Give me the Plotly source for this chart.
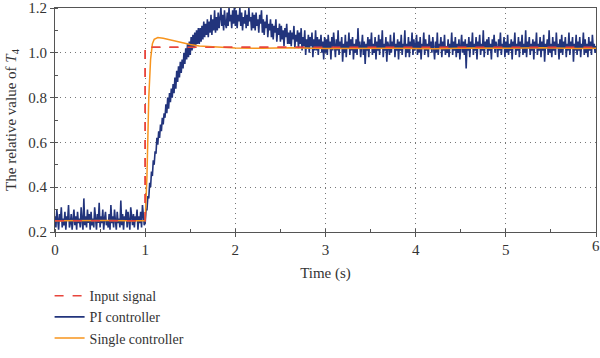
import numpy as np
import plotly.graph_objects as go

# Input signal (step)
input_t = [0, 1.0, 1.0, 6.0]
input_v = [0.25, 0.25, 1.025, 1.025]

# Single controller response
single_t = [0, 0.2, 0.4, 0.6, 0.8, 1.0, 1.02, 1.04, 1.06, 1.08, 1.10, 1.14, 1.2, 1.3, 1.4, 1.5,
            1.6, 1.8, 2.0, 2.3, 2.6, 3.0, 3.4, 3.8, 4.2, 4.6, 5.0, 5.4, 5.8, 6.0]
single_v = [0.25, 0.251, 0.249, 0.251, 0.25, 0.25, 0.45, 0.80, 0.97, 1.04, 1.06, 1.068, 1.065, 1.055, 1.045, 1.037,
            1.03, 1.025, 1.021, 1.02, 1.022, 1.019, 1.021, 1.02, 1.018, 1.021, 1.02, 1.022, 1.019, 1.02]

pi_v = [
    0.27, 0.22, 0.30, 0.24, 0.21, 0.28, 0.25, 0.31, 0.22, 0.26,
    0.23, 0.29, 0.21, 0.27, 0.25, 0.32, 0.22, 0.24, 0.28, 0.21,
    0.26, 0.30, 0.23, 0.27, 0.21, 0.29, 0.24, 0.26, 0.22, 0.31,
    0.25, 0.21, 0.35, 0.23, 0.27, 0.22, 0.30, 0.24, 0.28, 0.21,
    0.29, 0.23, 0.26, 0.22, 0.31, 0.25, 0.21, 0.28, 0.24, 0.33,
    0.22, 0.27, 0.24, 0.30, 0.21, 0.26, 0.29, 0.23, 0.25, 0.22,
    0.28, 0.21, 0.32, 0.24, 0.27, 0.22, 0.30, 0.25, 0.21, 0.29,
    0.24, 0.26, 0.22, 0.34, 0.23, 0.28, 0.21, 0.27, 0.25, 0.30,
    0.22, 0.29, 0.24, 0.21, 0.31, 0.26, 0.23, 0.28, 0.22, 0.27,
    0.25, 0.30, 0.21, 0.27, 0.24, 0.29, 0.22, 0.32, 0.25, 0.23,
    0.24, 0.30, 0.30, 0.36, 0.35, 0.42, 0.40, 0.47, 0.45, 0.52,
    0.50, 0.56, 0.55, 0.62, 0.59, 0.65, 0.62, 0.68, 0.65, 0.71,
    0.68, 0.73, 0.71, 0.77, 0.73, 0.80, 0.75, 0.82, 0.78, 0.84,
    0.80, 0.86, 0.82, 0.89, 0.84, 0.92, 0.87, 0.94, 0.89, 0.96,
    0.91, 0.97, 0.93, 1.00, 0.95, 1.02, 0.97, 1.04, 0.98, 1.05,
    0.99, 1.07, 1.01, 1.08, 1.02, 1.09, 1.03, 1.10, 1.04, 1.11,
    1.04, 1.11, 1.05, 1.12, 1.06, 1.14, 1.07, 1.13, 1.08, 1.15,
    1.07, 1.14, 1.09, 1.17, 1.08, 1.15, 1.10, 1.19, 1.09, 1.16,
    1.10, 1.18, 1.11, 1.16, 1.20, 1.12, 1.17, 1.10, 1.19, 1.13,
    1.11, 1.18, 1.12, 1.20, 1.14, 1.17, 1.11, 1.19, 1.13, 1.21,
    1.12, 1.19, 1.11, 1.17, 1.14, 1.20, 1.12, 1.18, 1.10, 1.16,
    1.13, 1.19, 1.11, 1.17, 1.12, 1.20, 1.14, 1.16, 1.10, 1.18,
    1.11, 1.17, 1.10, 1.18, 1.12, 1.15, 1.09, 1.17, 1.13, 1.19,
    1.09, 1.15, 1.08, 1.14, 1.11, 1.17, 1.07, 1.13, 1.10, 1.15,
    1.07, 1.13, 1.06, 1.12, 1.09, 1.15, 1.05, 1.11, 1.08, 1.13,
    1.05, 1.12, 1.06, 1.10, 1.03, 1.11, 1.07, 1.13, 1.04, 1.09,
    1.04, 1.10, 1.03, 1.09, 1.06, 1.12, 1.02, 1.08, 1.05, 1.10,
    1.02, 1.09, 1.04, 1.11, 1.01, 1.07, 1.03, 1.10, 0.99, 1.06,
    1.02, 1.08, 1.00, 1.07, 1.03, 1.09, 0.98, 1.06, 1.01, 1.10,
    1.01, 1.07, 0.99, 1.06, 1.02, 1.08, 1.00, 1.05, 0.97, 1.07,
    1.00, 1.06, 0.99, 1.08, 1.02, 1.05, 0.97, 1.07, 1.01, 1.09,
    1.03, 0.98, 1.06, 1.01, 1.10, 0.99, 1.05, 1.02, 1.07, 0.96,
    1.04, 1.00, 1.08, 0.98, 1.05, 1.02, 1.09, 0.99, 1.06, 1.01,
    1.07, 0.97, 1.04, 1.00, 1.06, 0.99, 1.11, 1.02, 1.05, 0.98,
    1.03, 1.08, 0.99, 1.05, 0.95, 1.04, 1.01, 1.07, 0.98, 1.06,
    1.02, 1.09, 0.99, 1.04, 1.00, 1.07, 0.97, 1.05, 1.01, 1.08,
    0.99, 1.06, 1.02, 1.10, 0.98, 1.04, 1.01, 1.07, 0.96, 1.05,
    1.03, 0.99, 1.08, 1.00, 1.05, 1.02, 1.09, 0.98, 1.04, 1.01,
    1.06, 0.97, 1.05, 1.01, 1.08, 0.99, 1.04, 1.02, 1.10, 0.98,
    1.04, 1.00, 1.07, 0.98, 1.05, 1.02, 1.09, 0.99, 1.06, 1.01,
    1.03, 1.08, 0.99, 1.05, 1.00, 1.07, 0.97, 1.04, 1.02, 1.09,
    0.99, 1.06, 1.01, 1.04, 0.98, 1.08, 1.02, 1.05, 1.00, 1.07,
    1.02, 0.97, 1.05, 1.00, 1.09, 0.99, 1.04, 1.02, 1.07, 0.98,
    1.05, 1.01, 1.08, 0.99, 1.03, 1.00, 1.06, 0.98, 1.04, 1.02,
    1.09, 0.99, 1.05, 1.01, 1.07, 0.98, 1.04, 1.00, 1.06, 0.97,
    1.03, 1.08, 1.00, 1.05, 0.99, 1.06, 0.93, 1.04, 1.01, 1.07,
    0.98, 1.05, 1.02, 1.09, 0.99, 1.04, 1.01, 1.07, 0.97, 1.05,
    1.02, 1.08, 0.99, 1.04, 1.01, 1.10, 0.98, 1.05, 1.02, 1.06,
    0.99, 1.07, 1.01, 1.04, 0.97, 1.06, 1.02, 1.08, 1.00, 1.05,
    1.03, 0.98, 1.06, 1.01, 1.09, 0.99, 1.04, 1.02, 1.07, 0.98,
    1.05, 1.00, 1.08, 0.99, 1.04, 1.01, 1.06, 0.97, 1.05, 1.02,
    1.09, 0.99, 1.04, 1.01, 1.07, 0.98, 1.05, 1.02, 1.08, 0.99,
    1.04, 1.00, 1.10, 0.98, 1.05, 1.02, 1.07, 0.99, 1.04, 1.01,
    1.06, 0.97, 1.05, 1.02, 1.09, 0.99, 1.04, 1.01, 1.07, 0.98,
    1.05, 1.01, 1.08, 0.96, 1.04, 1.02, 1.06, 0.99, 1.10, 1.00,
    1.04, 0.98, 1.07, 1.01, 1.05, 0.99, 1.09, 1.02, 1.04, 0.97,
    1.06, 1.00, 1.08, 0.99, 1.05, 1.02, 1.07, 0.98, 1.04, 1.01,
    1.09, 0.99, 1.05, 1.02, 1.07, 0.96, 1.04, 1.01, 1.08, 0.99,
    1.05, 1.01, 1.07, 0.98, 1.04, 1.02, 1.09, 0.99, 1.06, 1.00,
    1.04, 0.98, 1.07, 1.01, 1.05, 0.99, 1.08, 1.02, 1.04, 1.00,
    1.03,
]
pi_t = np.linspace(0, 6, len(pi_v))

x_ticks = [0, 1, 2, 3, 4, 5, 6]
y_ticks = [0.2, 0.4, 0.6, 0.8, 1.0, 1.2]
y_tick_text = ["0.2", "0.4", "0.6", "0.8", "1.0", "1.2"]

FONT = "Liberation Serif"

fig = go.Figure()
fig.add_trace(go.Scatter(x=input_t, y=input_v, mode="lines", name="Input signal",
                         line=dict(color="#e8453c", width=1.5, dash="dash")))
fig.add_trace(go.Scatter(x=pi_t, y=pi_v, mode="lines", name="PI controller",
                         line=dict(color="#22347c", width=1.6)))
fig.add_trace(go.Scatter(x=single_t, y=single_v, mode="lines", name="Single controller",
                         line=dict(color="#f7941d", width=1.5)))
# redraw input on top so the dashed line is visible
fig.add_trace(go.Scatter(x=input_t, y=input_v, mode="lines", showlegend=False,
                         line=dict(color="#e8453c", width=1.5, dash="dash"), hoverinfo="skip"))

axis_common = dict(showline=True, linecolor="#555", linewidth=1, mirror=True,
                   showgrid=True, gridcolor="#777", griddash="1px,4px", gridwidth=1,
                   ticks="outside", ticklen=4, tickcolor="#555", zeroline=False,
                   automargin=False,
                   tickfont=dict(family=FONT, size=15, color="#333"))

fig.update_xaxes(range=[0, 6], tickvals=x_ticks,
                 minor=dict(ticks="inside", dtick=0.5, ticklen=3, tickcolor="#555", showgrid=False),
                 title=dict(text="Time (s)", font=dict(family=FONT, size=15, color="#333"), standoff=10),
                 **axis_common)
fig.update_yaxes(range=[0.2, 1.2], tickvals=y_ticks, ticktext=y_tick_text,
                 minor=dict(ticks="inside", dtick=0.1, ticklen=3, tickcolor="#555", showgrid=False),
                 title=dict(text="The relative value of <i>T</i><sub>4</sub>",
                            font=dict(family=FONT, size=15, color="#333"), standoff=8),
                 **axis_common)

# last x tick label sits on the figure edge; draw it as an annotation so it is not dropped
fig.add_annotation(x=x_ticks[-1], y=0, xref="x", yref="paper", yanchor="top", yshift=-4,
                   text=str(x_ticks[-1]), showarrow=False,
                   font=dict(family=FONT, size=15, color="#333"))

fig.update_layout(
    width=600, height=358,
    margin=dict(l=55, r=4, t=8, b=124),
    plot_bgcolor="white", paper_bgcolor="white",
    font=dict(family=FONT, size=15, color="#333"),
    legend=dict(x=-0.01, y=-0.545, xanchor="left", yanchor="bottom",
                font=dict(family=FONT, size=14, color="#333"),
                tracegroupgap=0, itemwidth=30, bgcolor="rgba(0,0,0,0)"),
)

fig.write_html("out.html", config={"displayModeBar": False},
               post_script="document.body.style.margin='0';")
